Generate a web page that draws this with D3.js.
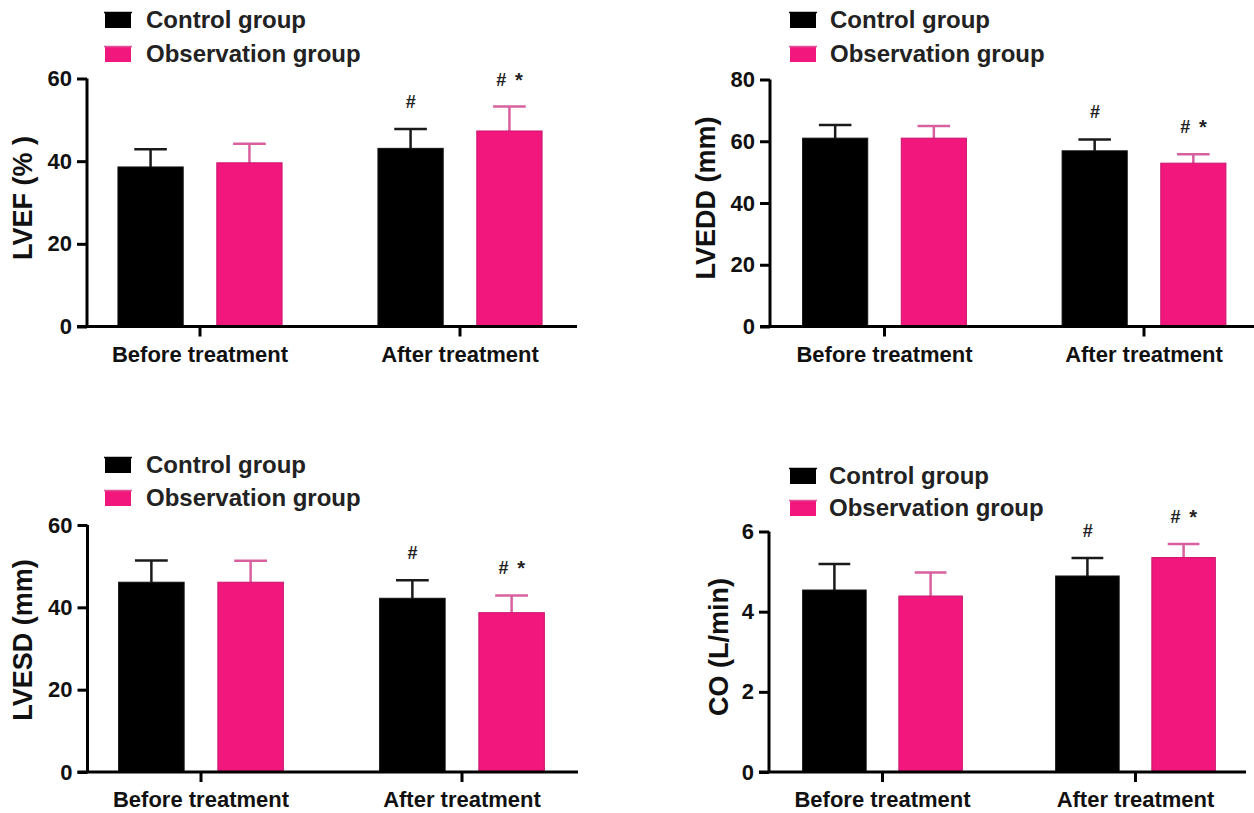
<!DOCTYPE html>
<html>
<head>
<meta charset="utf-8">
<script src="https://cdn.jsdelivr.net/npm/d3@7"></script>
<style>
  html, body { margin: 0; padding: 0; background: #fff; }
  svg { display: block; }
  text { font-family: "Liberation Sans", Arial, sans-serif; }
</style>
</head>
<body>
<svg id="chart" width="1254" height="813"></svg>
<script>
// ---------------- DATA ----------------
const categories = ["Before treatment", "After treatment"];
const groups = ["Control group", "Observation group"];

const lvefMean = { control: [38.6, 43.1], observation: [39.6, 47.3] };
const lvefSD   = { control: [4.3, 4.7],  observation: [4.6, 5.9] };

const lveddMean = { control: [61.0, 56.9], observation: [61.0, 52.9] };
const lveddSD   = { control: [4.3, 3.7],  observation: [3.9, 2.9] };

const lvesdMean = { control: [46.1, 42.2], observation: [46.1, 38.7] };
const lvesdSD   = { control: [5.3, 4.4],  observation: [5.2, 4.2] };

const coMean = { control: [4.54, 4.89], observation: [4.39, 5.35] };
const coSD   = { control: [0.65, 0.45], observation: [0.59, 0.34] };

const lvefTicks = [0, 20, 40, 60];
const lveddTicks = [0, 20, 40, 60, 80];
const lvesdTicks = [0, 20, 40, 60];
const coTicks = [0, 2, 4, 6];

const marks = { control: ["", "#"], observation: ["", "# *"] };

// ---------------- LAYOUT ----------------
const colors = { control: "#000000", observation: "#F2177D" };
const errColors = { control: "#1a1a1a", observation: "#D9609E" };

const panels = [
  { label: "LVEF (% )", mean: lvefMean, sd: lvefSD, ticks: lvefTicks,
    ax: 87, axEnd: 577, c0: 200, step: 260, y0: 326.5, yTop: 78.5,
    labelX: 23, labelY: 198, legX: 105, legY: 12, legGap: 34, textX: 146 },
  { label: "LVEDD (mm)", mean: lveddMean, sd: lveddSD, ticks: lveddTicks,
    ax: 770, axEnd: 1254, c0: 884.5, step: 259.5, y0: 326.5, yTop: 79.5,
    labelX: 706, labelY: 198, legX: 790, legY: 12, legGap: 34, textX: 830 },
  { label: "LVESD (mm)", mean: lvesdMean, sd: lvesdSD, ticks: lvesdTicks,
    ax: 87.5, axEnd: 578, c0: 201, step: 261, y0: 772, yTop: 525,
    labelX: 23, labelY: 640, legX: 105, legY: 457, legGap: 33, textX: 146 },
  { label: "CO (L/min)", mean: coMean, sd: coSD, ticks: coTicks,
    ax: 769, axEnd: 1246, c0: 882.5, step: 253, y0: 772, yTop: 531.5,
    labelX: 719, labelY: 647, legX: 790, legY: 468, legGap: 32, textX: 829 }
];

const svg = d3.select("#chart");
const keys = ["control", "observation"];

panels.forEach(p => {
  const g = svg.append("g");
  const maxTick = p.ticks[p.ticks.length - 1];
  const y = d3.scaleLinear().domain([0, maxTick]).range([p.y0, p.yTop]);
  const x = d3.scaleBand().domain(categories)
    .range([p.c0 - p.step / 2, p.c0 + 1.5 * p.step]).padding(0);
  const xi = d3.scaleBand().domain(keys).range([0, x.bandwidth()])
    .paddingInner(0.34).paddingOuter(0.485);

  keys.forEach(k => {
    const bw = xi.bandwidth();
    const cap = bw * 0.5;
    categories.forEach((c, i) => {
      const m = p.mean[k][i], s = p.sd[k][i];
      const bx = x(c) + xi(k);
      g.append("line")
        .attr("x1", bx + bw / 2).attr("x2", bx + bw / 2)
        .attr("y1", y(m)).attr("y2", y(m + s))
        .attr("stroke", errColors[k]).attr("stroke-width", 2.5);
      g.append("line")
        .attr("x1", bx + bw / 2 - cap / 2).attr("x2", bx + bw / 2 + cap / 2)
        .attr("y1", y(m + s)).attr("y2", y(m + s))
        .attr("stroke", errColors[k]).attr("stroke-width", 2.5);
      g.append("rect")
        .attr("x", bx).attr("y", y(m))
        .attr("width", bw).attr("height", y(0) - y(m))
        .attr("fill", colors[k])
        .attr("stroke", k === "observation" ? "#C9146C" : "#111")
        .attr("stroke-width", 1);
      const t = marks[k][i];
      if (t) {
        const parts = t.split(" ");
        const tx = g.append("text")
          .attr("x", bx + bw / 2 - (parts.length > 1 ? 0 : 0))
          .attr("y", y(m + s) - 27)
          .attr("text-anchor", "middle").attr("dominant-baseline", "central")
          .attr("font-size", 18).attr("font-weight", "bold")
          .attr("fill", "#222");
        tx.append("tspan").attr("font-style", "italic").text(parts[0]);
        if (parts.length > 1) {
          tx.append("tspan").attr("dx", 9).attr("font-size", 20).text(parts[1]);
        }
      }
    });
  });

  // y axis
  const yAxis = d3.axisLeft(y).tickValues(p.ticks).tickSize(10).tickPadding(5)
    .tickFormat(d3.format("d"));
  const ya = g.append("g").attr("transform", `translate(${p.ax},0)`).call(yAxis);
  ya.select(".domain").attr("stroke", "#000").attr("stroke-width", 3)
    .attr("d", `M0,${p.yTop}V${p.y0}`);
  ya.selectAll(".tick line").attr("stroke", "#000").attr("stroke-width", 3);
  ya.selectAll(".tick text").attr("font-size", 22).attr("font-weight", "bold")
    .attr("fill", "#111").attr("font-family", "'Liberation Sans', Arial, sans-serif");

  // x axis
  const xAxis = d3.axisBottom(x).tickSize(10).tickPadding(9.5).tickSizeOuter(0);
  const xa = g.append("g").attr("transform", `translate(0,${p.y0})`).call(xAxis);
  xa.select(".domain").remove();
  xa.selectAll(".tick line").attr("stroke", "#000").attr("stroke-width", 3);
  xa.selectAll(".tick text").attr("font-size", 22).attr("font-weight", "bold")
    .attr("fill", "#111").attr("font-family", "'Liberation Sans', Arial, sans-serif");
  g.append("line")
    .attr("x1", p.ax - 10).attr("x2", p.axEnd)
    .attr("y1", p.y0).attr("y2", p.y0)
    .attr("stroke", "#000").attr("stroke-width", 3);

  // y label
  g.append("text")
    .attr("transform", `translate(${p.labelX},${p.labelY}) rotate(-90)`)
    .attr("text-anchor", "middle").attr("dominant-baseline", "central")
    .attr("font-size", 27).attr("font-weight", "bold").attr("fill", "#111")
    .text(p.label);

  // legend
  groups.forEach((name, i) => {
    const k = keys[i];
    const ly = p.legY + i * p.legGap;
    g.append("rect").attr("x", p.legX).attr("y", ly)
      .attr("width", 26).attr("height", 16).attr("fill", colors[k]);
    g.append("line").attr("x1", p.legX - 1).attr("x2", p.legX + 27)
      .attr("y1", ly + 0.5).attr("y2", ly + 0.5)
      .attr("stroke", k === "observation" ? "#E0559A" : "#000").attr("stroke-width", 1.5);
    g.append("text").attr("x", p.textX).attr("y", ly + 16)
      .attr("font-size", 24).attr("font-weight", "bold").attr("fill", "#222")
      .text(name);
  });
});
</script>
</body>
</html>
